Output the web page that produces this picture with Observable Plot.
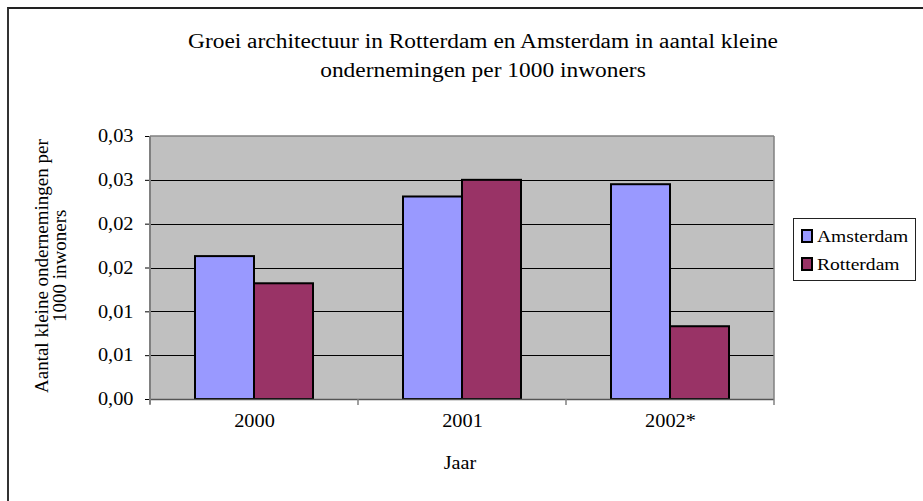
<!DOCTYPE html>
<html>
<head>
<meta charset="utf-8">
<script src="https://cdn.jsdelivr.net/npm/d3@7"></script>
<script src="https://cdn.jsdelivr.net/npm/@observablehq/plot@0.6"></script>
<style>
  html, body { margin: 0; padding: 0; background: #fff; }
  #wrap { position: relative; width: 923px; height: 501px; overflow: hidden; font-family: "Liberation Serif", "Times New Roman", Times, "DejaVu Serif", serif; color: #000; }
  #border { position: absolute; left: 7px; top: 7px; width: 1000px; height: 600px; border-top: 2px solid #222; border-left: 2px solid #333; }
  #chart { position: absolute; left: 0; top: 0; }
  .title { position: absolute; left: 183px; top: 27px; width: 600px; text-align: center; font-size: 20px; line-height: 29px; white-space: nowrap; transform: scaleX(1.17); transform-origin: 300px 0; }
  .xlab { position: absolute; left: 410px; top: 453px; width: 100px; text-align: center; font-size: 18px; transform: scaleX(1.12); }
  .ylab { position: absolute; left: 33px; top: 116px; width: 36px; height: 300px; writing-mode: vertical-rl; transform: rotate(180deg); text-align: center; font-size: 19px; line-height: 18px; white-space: nowrap; }
  .legend { position: absolute; left: 793px; top: 218px; width: 123px; height: 63px; border: 1px solid #222; box-sizing: border-box; background: #fff; }
  .item { position: absolute; left: 7px; font-size: 17px; line-height: 20px; white-space: nowrap; }
  .sw { display: inline-block; width: 8px; height: 10px; border: 2px solid #000; vertical-align: -1px; margin-right: 4px; }
  .itxt { display: inline-block; transform: scaleX(1.15); transform-origin: 0 0; }
</style>
</head>
<body>
<div id="wrap">
  <div id="border"></div>
  <div id="chart"></div>
  <div class="title" id="title"></div>
  <div class="xlab" id="xlab"></div>
  <div class="ylab" id="ylab"></div>
  <div class="legend" id="legend"></div>
</div>
<script>
// ---- data ----
const years = ["2000", "2001", "2002*"];
const series = ["Amsterdam", "Rotterdam"];
const amsterdam = [0.0163, 0.0231, 0.0245];
const rotterdam = [0.0132, 0.0250, 0.0083];
const colors = ["#9999FF", "#993366"];
const yTicks = [0, 0.005, 0.01, 0.015, 0.02, 0.025, 0.03];
const yTickLabels = ["0,00", "0,01", "0,01", "0,02", "0,02", "0,03", "0,03"];
const titleLines = ["Groei architectuur in Rotterdam en Amsterdam in aantal kleine", "ondernemingen per 1000 inwoners"];
const yLabelLines = ["Aantal kleine ondernemingen per", "1000 inwoners"];
const xLabel = "Jaar";

const data = years.flatMap((yr, i) => [
  {year: yr, series: series[0], value: amsterdam[i]},
  {year: yr, series: series[1], value: rotterdam[i]}
]);

const chart = Plot.plot({
  width: 923,
  height: 501,
  marginLeft: 150,
  marginRight: 149,
  marginTop: 136,
  marginBottom: 102,
  style: {fontFamily: "'Liberation Serif', 'Times New Roman', Times, 'DejaVu Serif', serif", fontSize: "18px", background: "transparent", color: "#000", overflow: "visible"},
  fx: {domain: years, padding: 0, label: null, tickSize: 0, tickPadding: 15, axis: "bottom"},
  x: {domain: series, paddingInner: 0, paddingOuter: 0.745, axis: null},
  y: {domain: [0, 0.03], ticks: yTicks, tickFormat: d => yTickLabels[yTicks.indexOf(d)], tickSize: 5, tickPadding: 12, label: null},
  color: {domain: series, range: colors},
  marks: [
    Plot.ruleY(yTicks.slice(1, -1), {stroke: "#000", strokeWidth: 1, shapeRendering: "crispEdges"}),
    Plot.barY(data, {fx: "year", x: "series", y: "value", fill: "series", stroke: "#000", strokeWidth: 2}),
    Plot.ruleY([0], {stroke: "#555", strokeWidth: 1.5})
  ]
});
document.getElementById("chart").appendChild(chart);

// plot-area background, border and category boundary ticks, positioned by Plot's scales
const svg = d3.select(chart);
const fx = chart.scale("fx");
const ys = chart.scale("y");
const xa = fx.range[0], xb = fx.range[1];
const y0 = ys.apply(0), yt = ys.apply(0.03);
svg.insert("rect", ":first-child")
  .attr("x", xa).attr("y", yt).attr("width", xb - xa).attr("height", y0 - yt)
  .attr("fill", "#C0C0C0");
const g = svg.append("g").attr("stroke", "#808080").attr("fill", "none");
g.append("line").attr("x1", xa).attr("x2", xb).attr("y1", yt).attr("y2", yt).attr("stroke-width", 1.5);
g.append("line").attr("x1", xb).attr("x2", xb).attr("y1", yt).attr("y2", y0).attr("stroke-width", 1.5);
g.append("line").attr("x1", xa).attr("x2", xa).attr("y1", yt).attr("y2", y0 + 5).attr("stroke-width", 2);
const bounds = years.map(d => fx.apply(d)).concat([xb]);
g.selectAll(".bt").data(bounds).join("line").attr("x1", d => d).attr("x2", d => d).attr("y1", y0).attr("y2", y0 + 6).attr("stroke-width", 1.5);

// widen axis label glyphs to match the reference's wide serif lettering
svg.selectAll("text").each(function() {
  const t = this.getAttribute("transform") || "";
  this.setAttribute("transform", t + " scale(1.13,1)");
});

// texts
document.getElementById("title").innerHTML = titleLines.join("<br>");
document.getElementById("xlab").textContent = xLabel;
document.getElementById("ylab").innerHTML = yLabelLines.join("<br>");
const legend = document.getElementById("legend");
series.forEach((s, i) => {
  const it = document.createElement("div");
  it.className = "item";
  it.style.top = (8 + i * 28) + "px";
  it.innerHTML = `<span class="sw" style="background:${colors[i]}"></span><span class="itxt">${s}</span>`;
  legend.appendChild(it);
});
</script>
</body>
</html>
